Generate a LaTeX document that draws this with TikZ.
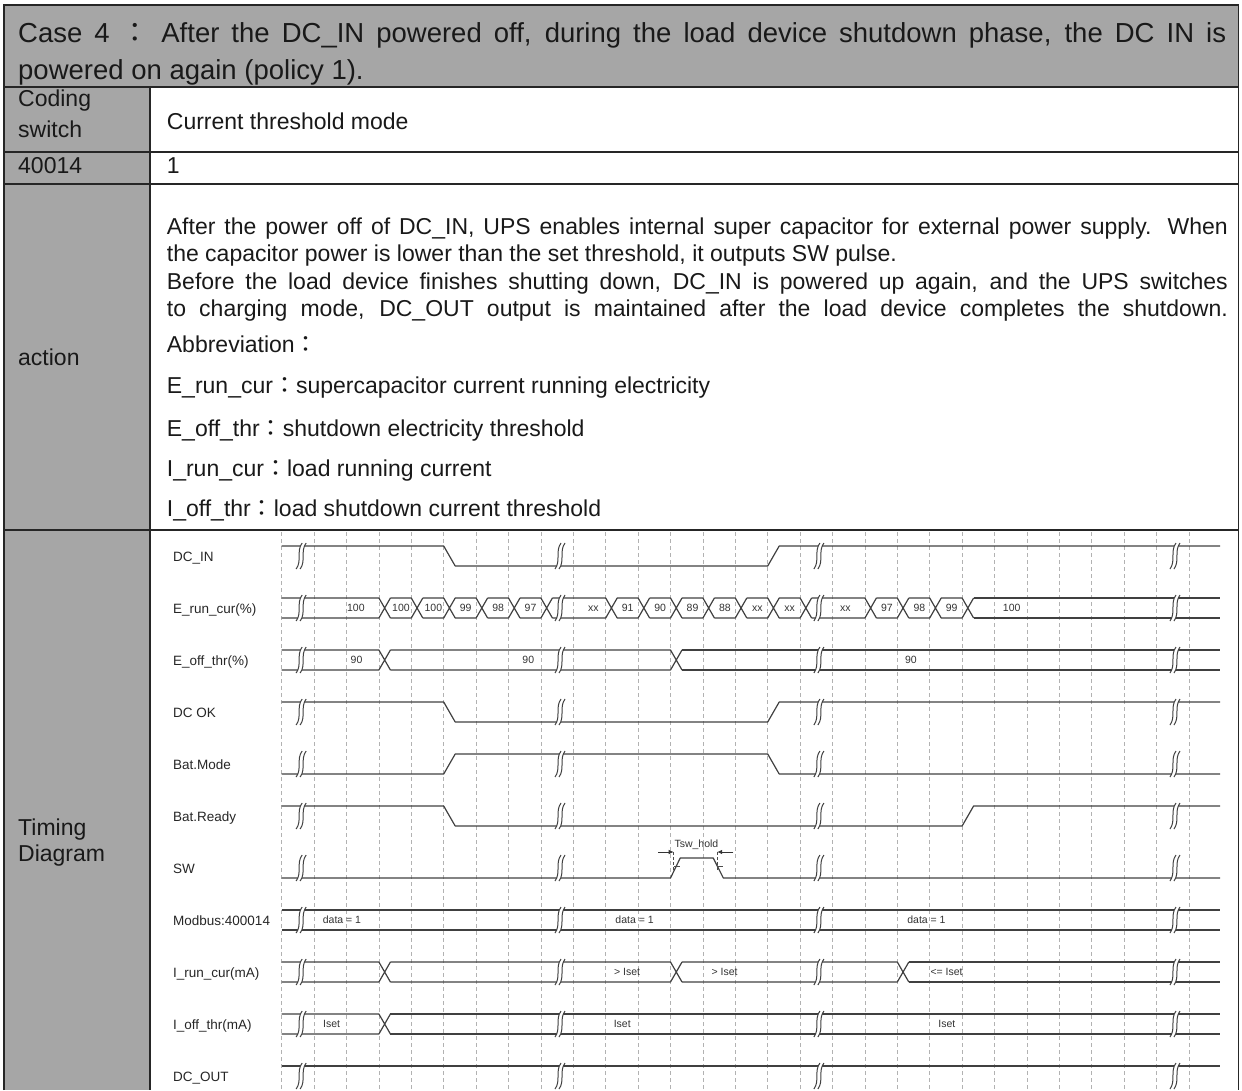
\documentclass[tikz,border=0pt]{standalone}
\usepackage{fontspec}
\setmainfont{Liberation Sans}
\newfontfamily\cjk{Noto Sans CJK TC}
\usetikzlibrary{arrows.meta}

\newcommand{\edg}{0.355}
\newcommand{\xend}{28.96}
% break mark at grid position #1
\newcommand{\brkmark}[1]{%
  \begin{scope}[shift={(#1,0)}, x=1pt]
    \fill[white] (1,-13) .. controls (-5,-5) and (1,5) .. (-5,13) -- (-1,13) .. controls (5,5) and (-1,-5) .. (5,-13) -- cycle;
    \draw[brk] (1,-13) .. controls (-5,-5) and (1,5) .. (-5,13);
    \draw[brk] (5,-13) .. controls (-1,-5) and (5,5) .. (-1,13);
  \end{scope}}
\newcommand{\brks}{\foreach \b in {0.6,8.59,16.58,27.57} {\brkmark{\b}}}
% bus with crossings at #1, last crossing #2
\newcommand{\bus}[2]{%
  \foreach \t [remember=\t as \p (initially -\edg)] in {#1} {
    \draw[sig] (\p+\edg,-10) -- (\t,-10) -- (\t+\edg,10) (\p+\edg,10) -- (\t,10) -- (\t+\edg,-10);
  }
  \draw[sig] (#2+\edg,-10) -- (\xend,-10) (#2+\edg,10) -- (\xend,10);}

\begin{document}
\begin{tikzpicture}[x=1pt, y=-1pt,
    hdr/.style={font=\fontsize{27.5}{31}\selectfont, anchor=base west, inner sep=0pt, text=black!90},
    txt/.style={font=\fontsize{23}{27}\selectfont, anchor=base west, inner sep=0pt, text=black!90},
    siglabel/.style={font=\fontsize{13.5}{16}\selectfont, anchor=base west, inner sep=0pt, text=black!85},
    val/.style={font=\fontsize{10.5}{12}\selectfont, anchor=base, inner sep=0pt, text=black!80},
    tablerule/.style={draw=black!85, line width=1.3pt},
    gridline/.style={draw=black!30, line width=0.6pt, dash pattern=on 4pt off 3pt},
    sig/.style={draw=black!75, line width=1.2pt, line join=round},
    brk/.style={draw=black!75, line width=1pt},
    sigrow/.style={shift={(281.7,#1)}, x=32.4pt}
]
    \useasboundingbox (0,0) rectangle (1242,1090);

    % table
    \fill[black!35] (4,5) rectangle (1238.5,87);
    \fill[black!35] (4,87) rectangle (150,1090);
    \draw[tablerule] (4,1090) -- (4,5) -- (1238.5,5) -- (1238.5,1090);
    \draw[tablerule] (4,87) -- (1238.5,87) (4,152) -- (1238.5,152) (4,184) -- (1238.5,184) (4,530) -- (1238.5,530);
    \draw[tablerule] (150,87) -- (150,1090);

    \node[hdr] (title1) at (18,42) {\makebox[1208pt][s]{Case 4 {\cjk ：} After the DC\_IN powered off, during the load device shutdown phase, the DC IN is}};
    \node[hdr] (title2) at (18,79.5) {powered on again (policy 1).};

    \node[txt] (coding) at (18,106.5) {Coding};
    \node[txt] (switch) at (18,137) {switch};
    \node[txt] (mode) at (166.7,129) {Current threshold mode};
    \node[txt] (reg) at (18,173.3) {40014};
    \node[txt] (regval) at (166.7,173.3) {1};
    \node[txt] (action) at (18,365) {action};
    \node[txt] (timing) at (18,835) {Timing};
    \node[txt] (diagram) at (18,861) {Diagram};

    \node[txt] (act1) at (166.7,234) {\makebox[1061pt][s]{After the power off of DC\_IN, UPS enables internal super capacitor for external power supply. When}};
    \node[txt] (act2) at (166.7,261.7) {the capacitor power is lower than the set threshold, it outputs SW pulse.};
    \node[txt] (act3) at (166.7,289.3) {\makebox[1061pt][s]{Before the load device finishes shutting down, DC\_IN is powered up again, and the UPS switches}};
    \node[txt] (act4) at (166.7,316.7) {\makebox[1061pt][s]{to charging mode, DC\_OUT output is maintained after the load device completes the shutdown.}};
    \node[txt] (abbr) at (166.7,352.7) {Abbreviation{\cjk ：}};
    \node[txt] (abbr1) at (166.7,393.3) {E\_run\_cur{\cjk ：}supercapacitor current running electricity};
    \node[txt] (abbr2) at (166.7,436.7) {E\_off\_thr{\cjk ：}shutdown electricity threshold};
    \node[txt] (abbr3) at (166.7,476) {I\_run\_cur{\cjk ：}load running current};
    \node[txt] (abbr4) at (166.7,516.7) {I\_off\_thr{\cjk ：}load shutdown current threshold};

    % signal names
    \node[siglabel] (l_dcin) at (173,561) {DC\_IN};
    \node[siglabel] (l_erun) at (173,613) {E\_run\_cur(\%)};
    \node[siglabel] (l_eoff) at (173,665) {E\_off\_thr(\%)};
    \node[siglabel] (l_dcok) at (173,717) {DC OK};
    \node[siglabel] (l_batmode) at (173,769) {Bat.Mode};
    \node[siglabel] (l_batready) at (173,821) {Bat.Ready};
    \node[siglabel] (l_sw) at (173,873) {SW};
    \node[siglabel] (l_modbus) at (173,925) {Modbus:400014};
    \node[siglabel] (l_irun) at (173,977) {I\_run\_cur(mA)};
    \node[siglabel] (l_ioff) at (173,1029) {I\_off\_thr(mA)};
    \node[siglabel] (l_dcout) at (173,1081) {DC\_OUT};

    % grid
    \begin{scope}[shift={(281.7,0)}, x=32.4pt]
        \foreach \k in {0,...,28} \draw[gridline] (\k,532) -- (\k,1090);
    \end{scope}

    % DC_IN
    \begin{scope}[sigrow=556]
        \draw[sig] (0,-10) -- (5,-10) -- (5+\edg,10) -- (15,10) -- (15+\edg,-10) -- (\xend,-10);
        \brks
    \end{scope}
    % E_run_cur
    \begin{scope}[sigrow=608]
        \bus{3,4,5,6,7,8,10,11,12,13,14,15,16,18,19,20,21}{21}
        \brks
        \foreach \x/\v [count=\i] in {2.29/100, 3.68/100, 4.68/100, 5.68/99, 6.68/98, 7.68/97, 9.62/xx, 10.68/91, 11.68/90, 12.68/89, 13.68/88, 14.68/xx, 15.68/xx, 17.4/xx, 18.68/97, 19.68/98, 20.68/99, 22.53/100}
            \node[val] (erun\i) at (\x,3.8) {\v};
    \end{scope}
    % E_off_thr
    \begin{scope}[sigrow=660]
        \bus{3,12}{12}
        \brks
        \foreach \x [count=\i] in {2.31, 7.61, 19.42}
            \node[val] (eoff\i) at (\x,3.8) {90};
    \end{scope}
    % DC OK
    \begin{scope}[sigrow=712]
        \draw[sig] (0,-10) -- (5,-10) -- (5+\edg,10) -- (15,10) -- (15+\edg,-10) -- (\xend,-10);
        \brks
    \end{scope}
    % Bat.Mode
    \begin{scope}[sigrow=764]
        \draw[sig] (0,10) -- (5,10) -- (5+\edg,-10) -- (15,-10) -- (15+\edg,10) -- (\xend,10);
        \brks
    \end{scope}
    % Bat.Ready
    \begin{scope}[sigrow=816]
        \draw[sig] (0,-10) -- (5,-10) -- (5+\edg,10) -- (21,10) -- (21+\edg,-10) -- (\xend,-10);
        \brks
    \end{scope}
    % SW
    \begin{scope}[sigrow=868]
        \draw[sig] (0,10) -- (12,10) -- (12.3,-10) -- (13.32,-10) -- (13.63,10) -- (\xend,10);
        \brks
        \coordinate (holdl) at (12.1,-16);
        \coordinate (holdr) at (13.44,-16);
        \draw[black!80, line width=0.8pt, -{Latex[length=5pt, width=4.5pt]}] (11.62,-16) -- (holdl);
        \draw[black!80, line width=0.8pt, -{Latex[length=5pt, width=4.5pt]}] (13.94,-16) -- (holdr);
        \draw[black!70, line width=0.6pt, densely dashed] (holdl) -- ++(0,18) (holdr) -- ++(0,18);
        \draw[black!70, line width=0.6pt] (12.1,-1.3) -- (12.28,-1.3) (13.44,-1.3) -- (13.62,-1.3);
        \node[val] (tsw) at (12.8,-21) {Tsw\_hold};
    \end{scope}
    % Modbus:400014
    \begin{scope}[sigrow=920]
        \draw[sig] (0,-10) -- (\xend,-10) (0,10) -- (\xend,10);
        \brks
        \node[val] (data1) at (1.86,3.8) {data = 1};
        \node[val] (data2) at (10.89,3.8) {data = 1};
        \node[val] (data3) at (19.9,3.8) {data = 1};
    \end{scope}
    % I_run_cur
    \begin{scope}[sigrow=972]
        \bus{3,12,19}{19}
        \brks
        \node[val] (irun1) at (10.66,3.8) {> Iset};
        \node[val] (irun2) at (13.67,3.8) {> Iset};
        \node[val] (irun3) at (20.52,3.8) {<= Iset};
    \end{scope}
    % I_off_thr
    \begin{scope}[sigrow=1024]
        \bus{3}{3}
        \brks
        \node[val] (ioff1) at (1.54,3.8) {Iset};
        \node[val] (ioff2) at (10.51,3.8) {Iset};
        \node[val] (ioff3) at (20.53,3.8) {Iset};
    \end{scope}
    % DC_OUT
    \begin{scope}[sigrow=1076]
        \draw[sig] (0,-10) -- (\xend,-10);
        \brks
    \end{scope}
\end{tikzpicture}
\end{document}
